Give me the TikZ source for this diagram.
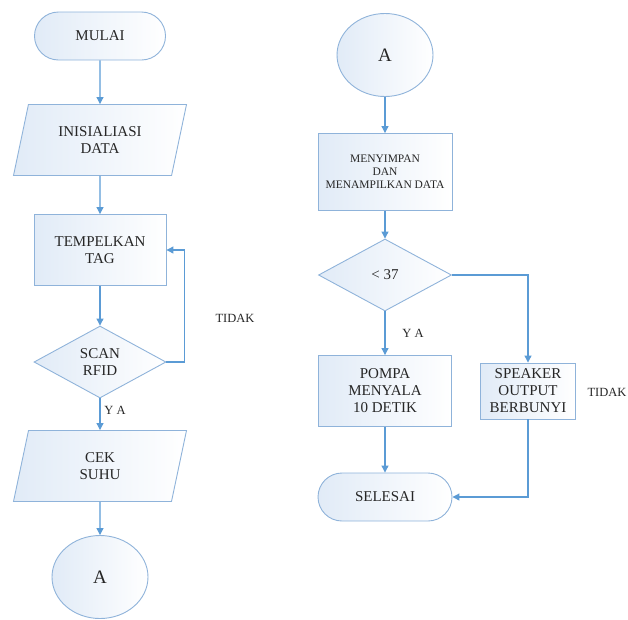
\documentclass[tikz,border=0pt]{standalone}
\usepackage{fontspec}
\setmainfont{Liberation Serif}
\usetikzlibrary{arrows.meta,shapes.geometric,shapes.misc}

\definecolor{garis}{HTML}{8FB3DA}
\definecolor{panah}{HTML}{5B9BD5}
\definecolor{isi}{HTML}{E1EBF7}

\begin{document}
\begin{tikzpicture}[x=1pt, y=-1pt, >={Triangle[length=7pt,width=7pt]},
  blok/.style={draw=garis, line width=0.9pt, left color=isi, right color=white,
    text=black!85, align=center, inner sep=0pt, font=\fontsize{15}{17}\selectfont},
  terminal/.style={blok, rounded rectangle, minimum width=131, minimum height=48},
  proses/.style={blok, rectangle, minimum width=132, minimum height=71},
  io/.style={blok, trapezium, trapezium left angle=61, trapezium right angle=119,
    trapezium stretches body, minimum width=173, minimum height=71},
  keputusan/.style={blok, diamond, aspect=1.83, minimum width=132, minimum height=72},
  konektor/.style={blok, ellipse, minimum width=96, minimum height=83,
    font=\fontsize{19}{21}\selectfont},
  alur/.style={->, draw=panah, line width=1.1pt, fill=none},
  ket/.style={text=black!85, font=\fontsize{12.5}{14}\selectfont}]

  \useasboundingbox (0,0) rectangle (628,619);

  % kolom kiri
  \node[terminal] (mulai) at (100,36) {MULAI};
  \node[io] (inisial) at (100,140) {INISIALIASI\\DATA};
  \node[proses] (tempel) at (100,250) {TEMPELKAN\\TAG};
  \node[keputusan] (scan) at (100,362) {SCAN\\RFID};
  \node[io] (cek) at (100,466) {CEK\\SUHU};
  \node[konektor] (konA) at (100,577) {A};

  \draw[alur] (mulai) -- (inisial);
  \draw[alur] (inisial) -- (tempel);
  \draw[alur] (tempel) -- (scan);
  \draw[alur] (scan) -- (cek);
  \draw[alur] (cek) -- (konA);
  \draw[alur] (scan.east) -- ++(18,0) |- (tempel.east);

  \node[ket] (tidakA) at (235,318) {TIDAK};
  \node[ket] (yaA) at (115,410) {Y A};

  % kolom kanan
  \node[konektor] (konB) at (385,55) {A};
  \node[proses, minimum width=134, minimum height=77,
    font=\fontsize{11.5}{13}\selectfont] (simpan) at (385,172)
    {MENYIMPAN\\DAN\\MENAMPILKAN DATA};
  \node[keputusan, minimum width=133] (suhu) at (385,275) {\textless{} 37};
  \node[proses, minimum width=133] (pompa) at (385,391) {POMPA\\MENYALA\\10 DETIK};
  \node[proses, minimum width=95, minimum height=56] (speaker) at (528,391)
    {SPEAKER\\OUTPUT\\BERBUNYI};
  \node[terminal, minimum width=134] (selesai) at (385,497) {SELESAI};

  \draw[alur] (konB) -- (simpan);
  \draw[alur] (simpan) -- (suhu);
  \draw[alur] (suhu) -- (pompa);
  \draw[alur] (pompa) -- (selesai);
  \draw[alur] (suhu.east) -| (speaker.north);
  \draw[alur] (speaker.south) |- (selesai.east);

  \node[ket] (yaB) at (413,333) {Y A};
  \node[ket] (tidakB) at (607,392) {TIDAK};
\end{tikzpicture}
\end{document}
